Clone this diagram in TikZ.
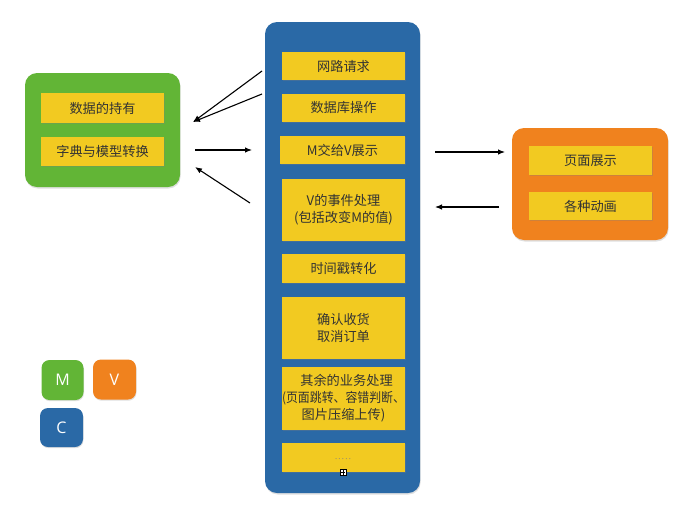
\documentclass[tikz,border=0pt]{standalone}
\usepackage{fontspec}
\setmainfont{Noto Sans CJK SC}
\newfontfamily\latinfont{Open Sans}
\usetikzlibrary{shadows,arrows.meta,calc}
\definecolor{mgreen}{HTML}{62B536}
\definecolor{morange}{HTML}{F0821E}
\definecolor{mblue}{HTML}{2A69A6}
\definecolor{myellow}{HTML}{F2CA21}
\definecolor{mtext}{HTML}{333333}
\tikzset{
  container/.style={rounded corners=12pt, inner sep=0pt, draw=none,
    drop shadow={opacity=0.25, shadow xshift=0.6pt, shadow yshift=-1.5pt}},
  ybox/.style={fill=myellow, draw=none, inner sep=0pt, align=center,
    text=mtext, font=\fontsize{13.2}{17}\selectfont, minimum width=123pt,
    drop shadow={opacity=0.3, shadow xshift=0.5pt, shadow yshift=-1pt}},
  mvc/.style={rounded corners=8pt, inner sep=0pt, minimum width=42pt, minimum height=40pt,
    text=white, font=\latinfont\fontsize{16}{18}\selectfont,
    drop shadow={opacity=0.25, shadow xshift=0.5pt, shadow yshift=-1.2pt}},
  link/.style={-{Latex[length=7pt,width=5.5pt]}, line width=1.1pt, black}
}
\begin{document}
\begin{tikzpicture}[x=1pt,y=-1pt]
\useasboundingbox (0,0) rectangle (700,509);
% containers
\node[container, fill=mblue, minimum width=155pt, minimum height=471pt] (ctrl) at (342.5,257.5) {};
\node[container, fill=mgreen, minimum width=155pt, minimum height=114pt] (model) at (102.5,130) {};
\node[container, fill=morange, minimum width=156pt, minimum height=112pt] (view) at (590,184) {};
% controller boxes
\node[ybox, minimum height=28pt] (c1) at (343.5,66) {网路请求};
\node[ybox, minimum height=28pt] (c2) at (343.5,107.5) {数据库操作};
\node[ybox, minimum height=28pt, minimum width=125pt] (c3) at (342.5,150) {M交给V展示};
\node[ybox, minimum height=62pt] (c4) at (343.5,209.5) {V的事件处理\\(包括改变M的值)};
\node[ybox, minimum height=29pt] (c5) at (343.5,268.5) {时间戳转化};
\node[ybox, minimum height=62pt] (c6) at (343.5,327.5) {确认收货\\取消订单};
\node[ybox, minimum height=63pt] (c7) at (343.5,398.5) {\hspace*{6pt}其余的业务处理\\\scalebox{0.9}[1]{(页面跳转、容错判断、}\\图片压缩上传)};
\node[ybox, minimum height=29pt] (c8) at (343.5,457.5) {};
\node[text=gray, font=\latinfont\fontsize{8}{9}\selectfont] (dots) at (343,459) {.\,.\,.\,.\,.};
\node[draw=black, fill=white, line width=0.5pt, minimum size=6pt, inner sep=0pt] (icon) at (343,472.5) {};
\draw[line width=0.6pt] ($(icon.west)+(1.2pt,0)$) -- ($(icon.east)+(-1.2pt,0)$);
\draw[line width=0.6pt] ($(icon.north)+(0,1.2)$) -- ($(icon.south)+(0,-1.2)$);
% model boxes
\node[ybox, minimum height=30pt] (m1) at (102.5,108) {数据的持有};
\node[ybox, minimum height=29pt] (m2) at (102.5,151.5) {字典与模型转换};
% view boxes
\node[ybox, minimum height=29pt] (v1) at (590.5,160.5) {页面展示};
\node[ybox, minimum height=28pt] (v2) at (590.5,206) {各种动画};
% MVC legend
\node[mvc, fill=mgreen] (lm) at (62.5,380) {M};
\node[mvc, fill=morange, minimum width=43pt] (lv) at (114.5,379.5) {V};
\node[mvc, fill=mblue, minimum width=43pt, minimum height=39pt] (lc) at (61.5,427.5) {C};
% arrows
\coordinate (a1s) at (262,71);
\coordinate (a2s) at (262,94);
\coordinate (a12e) at (193,122);
\coordinate (a3s) at (195,150);
\coordinate (a3e) at (252,150);
\coordinate (a4s) at (250,203);
\coordinate (a4e) at (195,167);
\coordinate (a5s) at (435,152);
\coordinate (a5e) at (505,152);
\coordinate (a6s) at (499,207);
\coordinate (a6e) at (435,207);
\draw[link] (a1s) -- (a12e);
\draw[link] (a2s) -- (a12e);
\draw[link] (a3s) -- (a3e);
\draw[link] (a4s) -- (a4e);
\draw[link] (a5s) -- (a5e);
\draw[link] (a6s) -- (a6e);
\end{tikzpicture}
\end{document}
